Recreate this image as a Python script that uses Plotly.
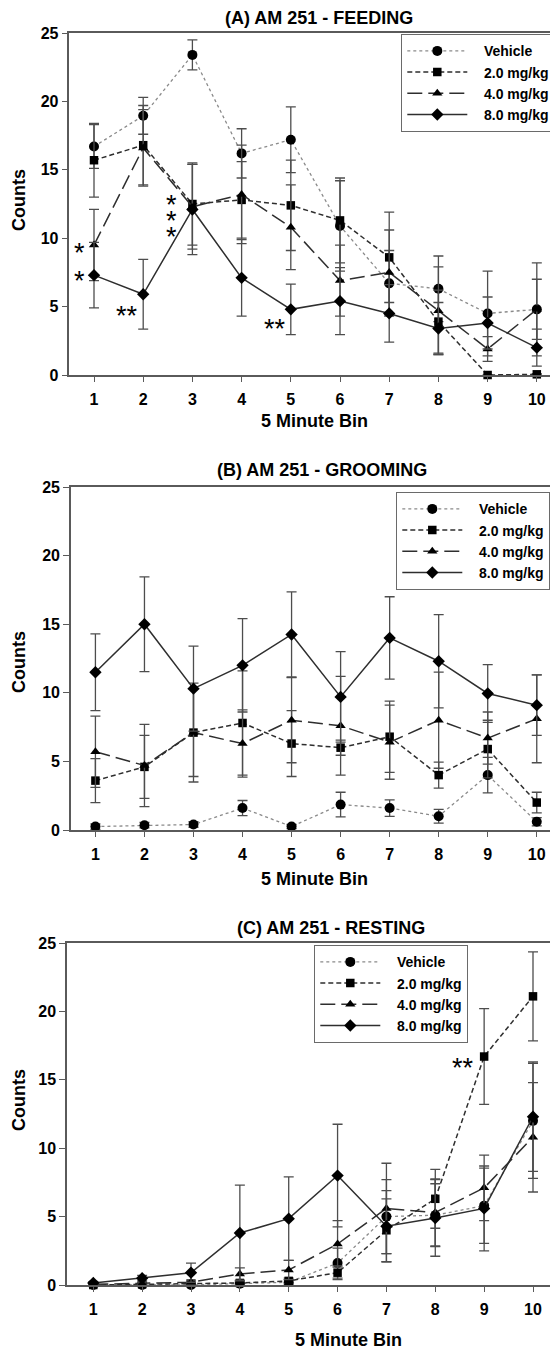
import plotly.graph_objects as go

# ---------------- data ----------------
bins = [1, 2, 3, 4, 5, 6, 7, 8, 9, 10]
x_tick_labels = ["1", "2", "3", "4", "5", "6", "7", "8", "9", "10"]
y_tick_values = [0, 5, 10, 15, 20, 25]
group_names = ["Vehicle", "2.0 mg/kg", "4.0 mg/kg", "8.0 mg/kg"]
panel_titles = ["(A) AM 251 - FEEDING", "(B) AM 251 - GROOMING", "(C) AM 251 - RESTING"]
x_axis_title = "5 Minute Bin"
y_axis_title = "Counts"

# (A) Feeding
feed_vehicle = [16.7, 18.95, 23.4, 16.2, 17.2, 10.9, 6.7, 6.3, 4.5, 4.8]
feed_vehicle_sem = [1.6, 1.35, 1.1, 1.8, 2.4, 3.3, 2.4, 2.4, 3.1, 3.4]
feed_2mg = [15.7, 16.8, 12.5, 12.8, 12.4, 11.3, 8.6, 3.9, 0.0, 0.05]
feed_2mg_sem = [2.7, 2.9, 3.0, 2.8, 3.3, 3.1, 3.3, 2.3, 0.0, 0.05]
feed_4mg = [9.5, 16.6, 12.3, 13.2, 10.8, 6.9, 7.5, 4.7, 1.9, 4.8]
feed_4mg_sem = [2.6, 2.8, 3.1, 3.6, 3.1, 2.6, 3.1, 3.2, 0.9, 2.2]
feed_8mg = [7.3, 5.9, 12.1, 7.1, 4.8, 5.4, 4.5, 3.4, 3.8, 2.0]
feed_8mg_sem = [2.4, 2.55, 3.3, 2.8, 1.85, 2.45, 2.1, 1.9, 1.9, 1.35]

# (B) Grooming
groom_vehicle = [0.25, 0.35, 0.4, 1.6, 0.25, 1.85, 1.6, 1.0, 4.0, 0.6]
groom_vehicle_sem = [0.2, 0.2, 0.2, 0.55, 0.15, 0.9, 0.6, 0.5, 1.3, 0.3]
groom_2mg = [3.6, 4.6, 7.1, 7.8, 6.3, 6.0, 6.8, 4.0, 5.9, 2.0]
groom_2mg_sem = [1.6, 2.3, 3.2, 3.8, 2.4, 0.55, 2.6, 0.95, 2.1, 0.75]
groom_4mg = [5.7, 4.7, 7.1, 6.3, 8.0, 7.6, 6.4, 8.0, 6.7, 8.1]
groom_4mg_sem = [2.6, 3.0, 3.6, 2.45, 3.1, 3.6, 2.7, 3.5, 1.9, 3.2]
groom_8mg = [11.5, 15.0, 10.3, 12.0, 14.25, 9.7, 14.0, 12.3, 9.95, 9.1]
groom_8mg_sem = [2.8, 3.45, 3.1, 3.4, 3.1, 3.3, 3.0, 3.4, 2.1, 2.2]

# (C) Resting
rest_vehicle = [0.0, 0.0, 0.0, 0.1, 0.2, 1.6, 5.0, 5.1, 5.8, 12.0]
rest_vehicle_sem = [0.0, 0.0, 0.0, 0.1, 0.2, 1.1, 2.7, 2.3, 2.75, 4.2]
rest_2mg = [0.0, 0.05, 0.1, 0.15, 0.3, 0.9, 4.0, 6.3, 16.7, 21.1]
rest_2mg_sem = [0.0, 0.05, 0.1, 0.15, 0.2, 0.5, 2.3, 2.15, 3.5, 3.25]
rest_4mg = [0.05, 0.1, 0.2, 0.8, 1.1, 3.0, 5.6, 5.3, 7.1, 10.8]
rest_4mg_sem = [0.05, 0.1, 0.15, 0.45, 0.7, 1.7, 3.3, 2.45, 2.4, 4.0]
rest_8mg = [0.15, 0.5, 0.9, 3.8, 4.85, 8.0, 4.3, 4.9, 5.6, 12.3]
rest_8mg_sem = [0.1, 0.2, 0.7, 3.5, 3.05, 3.75, 2.6, 2.8, 3.1, 4.0]

# significance marks
sig_feed_x = [0.715, 0.715, 1.68, 2.585, 2.585, 2.585, 4.67]
sig_feed_y = [9.38, 7.3, 4.75, 12.84, 11.7, 10.5, 3.78]
sig_feed_text = ["*", "*", "**", "*", "*", "*", "**"]
sig_rest_x = [8.57]
sig_rest_y = [16.3]
sig_rest_text = ["**"]

# ---------------- styles ----------------
FONT = "Liberation Sans, Arial, sans-serif"
W, H = 550, 1349
group_styles = [
    dict(symbol="circle", size=10, dash="dot", lcolor="#8a8a8a", lwidth=1.3),
    dict(symbol="square", size=8.5, dash="5px,3px", lcolor="#2e2e2e", lwidth=1.5),
    dict(symbol="triangle-up", size=9, dash="15px,6px", lcolor="#2e2e2e", lwidth=1.5),
    dict(symbol="diamond", size=9.5, dash="solid", lcolor="#2e2e2e", lwidth=1.5),
]

panels = [
    dict(means=[feed_vehicle, feed_2mg, feed_4mg, feed_8mg],
         sems=[feed_vehicle_sem, feed_2mg_sem, feed_4mg_sem, feed_8mg_sem],
         top=33, bottom=375, left=69.4, xrange=[0.5, 10.268],
         title_xy=(319, 18), xtitle_xy=(314, 421), ytitle_y=200,
         legend_xy=(401, 34)),
    dict(means=[groom_vehicle, groom_2mg, groom_4mg, groom_8mg],
         sems=[groom_vehicle_sem, groom_2mg_sem, groom_4mg_sem, groom_8mg_sem],
         top=487, bottom=830, left=70.9, xrange=[0.5, 10.27],
         title_xy=(322, 470), xtitle_xy=(314, 879), ytitle_y=662,
         legend_xy=(396, 492)),
    dict(means=[rest_vehicle, rest_2mg, rest_4mg, rest_8mg],
         sems=[rest_vehicle_sem, rest_2mg_sem, rest_4mg_sem, rest_8mg_sem],
         top=943, bottom=1285, left=67, xrange=[0.462, 10.348],
         title_xy=(331, 928), xtitle_xy=(348, 1340), ytitle_y=1100,
         legend_xy=(314, 945)),
]

fig = go.Figure()
layout = dict(
    width=W, height=H,
    margin=dict(l=0, r=0, t=0, b=0, autoexpand=False),
    paper_bgcolor="white", plot_bgcolor="white",
    font=dict(family=FONT, color="black"),
    annotations=[],
)

axis_line_color = "#5a5a5a"

for p_i, p in enumerate(panels):
    suffix = "" if p_i == 0 else str(p_i + 1)
    xa, ya = "x" + suffix, "y" + suffix
    legend_id = "legend" + suffix
    for g_i, name in enumerate(group_names):
        st = group_styles[g_i]
        fig.add_trace(go.Scatter(
            x=bins, y=p["means"][g_i],
            error_y=dict(type="data", array=p["sems"][g_i], visible=True,
                         color="#4d4d4d", thickness=1.3, width=5),
            mode="lines+markers",
            name="\u00a0\u00a0\u00a0" + name,
            line=dict(color=st["lcolor"], width=st["lwidth"], dash=st["dash"]),
            marker=dict(symbol=st["symbol"], size=st["size"], color="black",
                        line=dict(width=0)),
            xaxis=xa, yaxis=ya, legend=legend_id, cliponaxis=False,
        ))
    ydom = [1 - p["bottom"] / H, 1 - p["top"] / H]
    layout["xaxis" + suffix] = dict(
        domain=[p["left"] / W, 1], range=p["xrange"], anchor=ya,
        tickmode="array", tickvals=bins, ticktext=x_tick_labels,
        ticks="outside", ticklen=5, tickwidth=1.3, tickcolor=axis_line_color,
        showline=True, linecolor=axis_line_color, linewidth=1.5, mirror=True,
        showgrid=False, zeroline=False, ticklabelstandoff=4,
        tickfont=dict(family=FONT, size=16, weight="bold", color="black"),
    )
    layout["yaxis" + suffix] = dict(
        domain=ydom, range=[0, 25], anchor=xa,
        tickmode="array", tickvals=y_tick_values,
        ticks="outside", ticklen=6, tickwidth=1.3, tickcolor=axis_line_color,
        showline=True, linecolor=axis_line_color, linewidth=1.5,
        showgrid=False, zeroline=False,
        tickfont=dict(family=FONT, size=16, weight="bold", color="black"),
    )
    lx, ly = p["legend_xy"]
    layout[legend_id] = dict(
        x=lx / W, y=1 - ly / H, xanchor="left", yanchor="top",
        xref="paper", yref="paper",
        bgcolor="white", bordercolor="#6a6a6a", borderwidth=1.3,
        itemwidth=60, tracegroupgap=0, traceorder="normal",
        font=dict(family=FONT, size=14, weight="bold", color="black"),
    )
    tx, ty = p["title_xy"]
    layout["annotations"].append(dict(
        text=panel_titles[p_i], x=tx / W, y=1 - ty / H, xref="paper", yref="paper",
        xanchor="center", yanchor="middle", showarrow=False,
        font=dict(family=FONT, size=18, weight="bold", color="black")))
    xtx, xty = p["xtitle_xy"]
    layout["annotations"].append(dict(
        text=x_axis_title, x=xtx / W, y=1 - xty / H, xref="paper", yref="paper",
        xanchor="center", yanchor="middle", showarrow=False,
        font=dict(family=FONT, size=18, weight="bold", color="black")))
    layout["annotations"].append(dict(
        text=y_axis_title, x=19 / W, y=1 - p["ytitle_y"] / H, xref="paper", yref="paper",
        xanchor="center", yanchor="middle", showarrow=False, textangle=-90,
        font=dict(family=FONT, size=18, weight="bold", color="black")))

for sx, sy, stext in zip(sig_feed_x, sig_feed_y, sig_feed_text):
    layout["annotations"].append(dict(
        text=stext, x=sx, y=sy, xref="x", yref="y", showarrow=False,
        xanchor="center", yanchor="middle", yshift=-6,
        font=dict(family=FONT, size=27, color="black")))
for sx, sy, stext in zip(sig_rest_x, sig_rest_y, sig_rest_text):
    layout["annotations"].append(dict(
        text=stext, x=sx, y=sy, xref="x3", yref="y3", showarrow=False,
        xanchor="center", yanchor="middle", yshift=-6,
        font=dict(family=FONT, size=27, color="black")))

fig.update_layout(**layout)
fig.write_html("out.html")
